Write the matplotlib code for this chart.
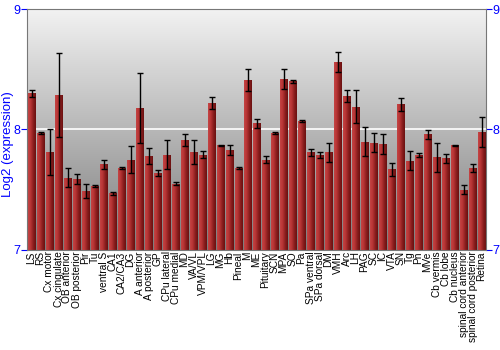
import numpy as np
import matplotlib
matplotlib.use("Agg")
import matplotlib.pyplot as plt
from matplotlib.colors import LinearSegmentedColormap

regions = ["LS", "RS", "Cx motor", "Cx cingulate", "OB anterior", "OB posterior", "Pir", "Tu",
           "ventral S", "CA1", "CA2/CA3", "DG", "A anterior", "A posterior", "GP", "CPu lateral",
           "CPu medial", "MD", "VA/VL", "VPM/VPL", "LG", "MG", "Hb", "Pineal", "M", "ME",
           "Pituitary", "SCN", "MPA", "SO", "Pa", "SPa ventral", "SPa dorsal", "DM", "VMH", "Arc",
           "LH", "PAG", "SC", "IC", "VTA", "SN", "Tg", "Pn", "MVe", "Cb vermis", "Cb lobe",
           "Cb nucleus", "spinal cord anterior", "spinal cord posterior", "Retina"]
expression = [8.30, 7.97, 7.81, 8.285, 7.60, 7.59, 7.49, 7.53,
              7.71, 7.47, 7.68, 7.75, 8.18, 7.78, 7.64, 7.79,
              7.55, 7.91, 7.81, 7.79, 8.22, 7.87, 7.83, 7.68, 8.41, 8.05,
              7.75, 7.97, 8.42, 8.40, 8.07, 7.81, 7.79, 7.81, 8.56, 8.28,
              8.19, 7.90, 7.89, 7.88, 7.67, 8.21, 7.74, 7.79, 7.96, 7.77, 7.76,
              7.87, 7.50, 7.68, 7.98]
errors = [0.03, 0.01, 0.19, 0.35, 0.08, 0.04, 0.057, 0.01,
          0.04, 0.01, 0.01, 0.11, 0.29, 0.07, 0.025, 0.12,
          0.01, 0.05, 0.10, 0.03, 0.05, 0.005, 0.04, 0.01, 0.09, 0.04,
          0.03, 0.01, 0.08, 0.01, 0.005, 0.03, 0.025, 0.08, 0.08, 0.05,
          0.14, 0.12, 0.08, 0.08, 0.055, 0.055, 0.08, 0.015, 0.035, 0.12, 0.035,
          0.005, 0.035, 0.03, 0.125]

plt.rcParams['font.family'] = ['Liberation Sans', 'DejaVu Sans']

fig = plt.figure(figsize=(5, 3.5), dpi=100)
ax = fig.add_axes([0.054, 0.286, 0.918, 0.688])

x = np.arange(len(regions))
ax.set_xlim(-0.5, len(regions) - 0.5)
ax.set_ylim(7, 9)

# gradient background
bg = LinearSegmentedColormap.from_list("bg", ["#7c7c7c", "#f2f2f2"])
grad = np.linspace(0, 1, 256).reshape(-1, 1)
ax.imshow(grad, cmap=bg, aspect="auto", origin="lower",
          extent=(-0.5, len(regions) - 0.5, 7, 9), zorder=0)
ax.axhline(8, color="white", lw=1.2, zorder=1)

bars = ax.bar(x, np.array(expression) - 7, bottom=7, width=0.86,
              color="#b03030", edgecolor="#c06060", linewidth=0.4, zorder=2)
barmap = LinearSegmentedColormap.from_list("bar", ["#c44444", "#b83535", "#8a1e1e", "#6a1010"])
hgrad = np.linspace(0, 1, 64).reshape(1, -1)
for b in bars:
    im = ax.imshow(hgrad, cmap=barmap, aspect="auto",
                   extent=(b.get_x(), b.get_x() + b.get_width(), 7, b.get_y() + b.get_height()),
                   zorder=2.5)
    im.set_clip_path(b)

ax.errorbar(x, expression, yerr=errors, fmt="none", ecolor="black",
            elinewidth=1, capsize=2, capthick=1, zorder=3)

ax.set_xticks(x)
ax.set_xticklabels(regions, rotation=90, fontsize=7.3)
ax.tick_params(axis="x", length=0, pad=1)
ax.set_yticks([7, 8, 9])
ax.tick_params(axis="y", colors="blue", labelsize=9, length=4, pad=0.5,
               right=True, labelright=True)
for t in ax.get_yticklines():
    t.set_color("black")
ax.set_ylabel("Log2 (expression)", color="blue", fontsize=9.5)
ax.yaxis.set_label_coords(-0.028, 0.44)
for s in ax.spines.values():
    s.set_color("#777777")
    s.set_linewidth(0.8)

fig.savefig("out.png", dpi=100)
